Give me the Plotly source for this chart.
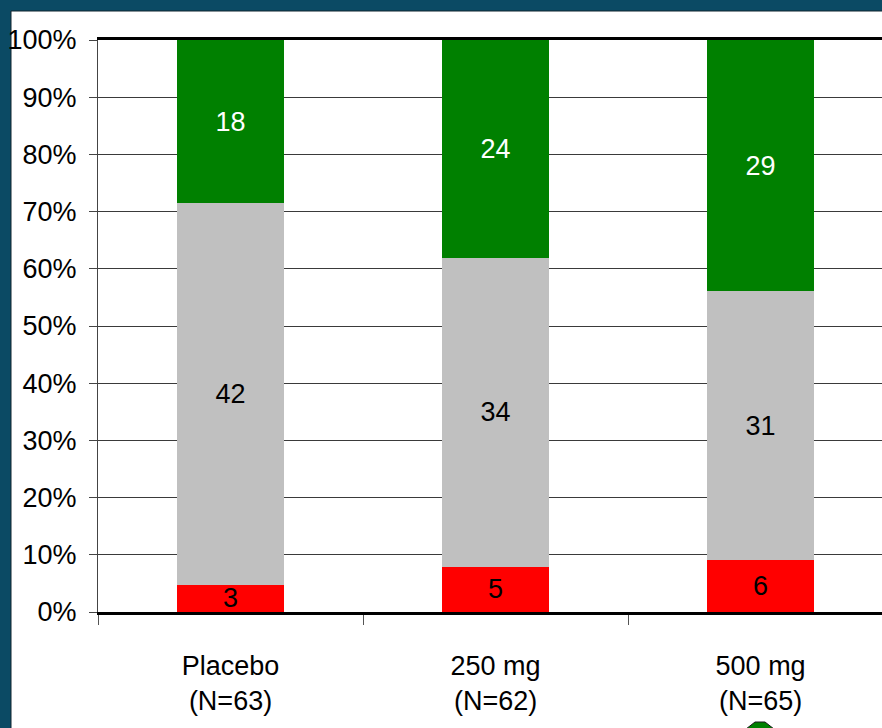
import plotly.graph_objects as go

# Treatment groups and response counts per group
groups = ["Placebo<br>(N=63)", "250 mg<br>(N=62)", "500 mg<br>(N=65)"]
worse = [3, 5, 6]
unchanged = [42, 34, 31]
improved = [18, 24, 29]

totals = [a + b + c for a, b, c in zip(worse, unchanged, improved)]

FONT = "Liberation Sans, Arial, sans-serif"
FS = 27

series = [
    ("Worse", worse, "#FF0000", "black"),
    ("Unchanged", unchanged, "#C0C0C0", "black"),
    ("Improved", improved, "#008000", "white"),
]

fig = go.Figure()
for name, counts, color, txtcolor in series:
    fig.add_trace(go.Bar(
        name=name,
        x=groups,
        y=[c / t for c, t in zip(counts, totals)],
        customdata=counts,
        texttemplate="%{customdata}",
        textposition="inside",
        insidetextanchor="middle",
        textangle=0,
        textfont=dict(family=FONT, size=FS, color=txtcolor),
        marker=dict(color=color, line=dict(width=0)),
        width=0.404,
        hoverinfo="skip",
    ))

# Pixel helpers for the slide panel behind the plot
W, H = 882, 728
L, R, T, B = 98, 0, 40, 116
pw, ph = W - L - R, H - T - B


def px(x):
    return (x - L) / pw


def py(y):
    return (H - B - y) / ph


shapes = [
    dict(type="rect", xref="paper", yref="paper", layer="below",
         x0=px(11), x1=px(W + 5), y0=py(H + 5), y1=py(11),
         fillcolor="white", line=dict(color="#10252e", width=1)),
    dict(type="path", xref="paper", yref="paper", layer="above",
         path=f"M {px(746)} {py(729)} L {px(755)} {py(722)} L {px(765)} {py(722)} "
              f"L {px(774)} {py(729)} Z",
         fillcolor="#008000", line=dict(color="#1a1a1a", width=1)),
]

fig.update_layout(
    width=W, height=H,
    margin=dict(l=L, r=R, t=T, b=B, pad=0),
    barmode="stack",
    showlegend=False,
    paper_bgcolor="#0b4a64",
    plot_bgcolor="white",
    font=dict(family=FONT, size=FS, color="black"),
    uniformtext=dict(minsize=FS, mode="show"),
    shapes=shapes,
)

fig.update_xaxes(
    type="category",
    range=[-0.5, 2.458],
    showgrid=False,
    showline=True, linecolor="black", linewidth=2.5, mirror=True,
    ticks="outside", tickson="boundaries", ticklen=10, tickwidth=1,
    tickcolor="#555555",
    ticklabelstandoff=28,
    tickfont=dict(family=FONT, size=FS, color="black"),
    fixedrange=True,
)

fig.update_yaxes(
    range=[0, 1],
    tickvals=[i / 10 for i in range(11)],
    tickformat=".0%",
    showgrid=True, gridcolor="#3a3a3a", gridwidth=1,
    showline=True, linecolor="#444444", linewidth=1,
    ticks="outside", ticklen=8, tickwidth=1, tickcolor="#444444",
    ticklabelstandoff=7,
    tickfont=dict(family=FONT, size=FS, color="black"),
    zeroline=False,
    fixedrange=True,
)

fig.write_html("out.html")
